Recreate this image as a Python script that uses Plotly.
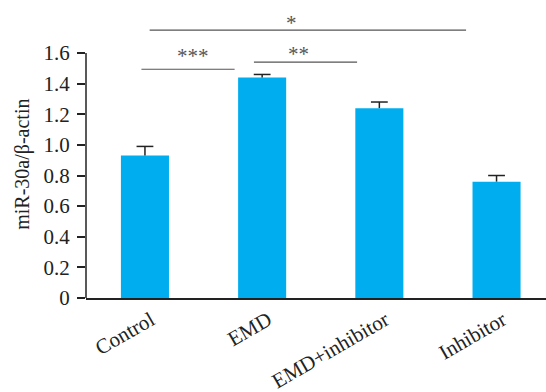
import plotly.graph_objects as go

categories = ["Control", "EMD", "EMD+inhibitor", "Inhibitor"]
values = [0.93, 1.44, 1.24, 0.76]
errors = [0.06, 0.02, 0.04, 0.04]
y_ticks = [0, 0.2, 0.4, 0.6, 0.8, 1.0, 1.2, 1.4, 1.6]
y_tick_labels = ["0", "0.2", "0.4", "0.6", "0.8", "1.0", "1.2", "1.4", "1.6"]
y_title = "miR-30a/β-actin"

# significance brackets
sig_x0 = [0.04, -0.03, 0.93]
sig_x1 = [2.74, 0.765, 1.81]
sig_y = [1.749, 1.494, 1.541]
sig_label = ["*", "***", "**"]
sig_label_x = [1.25, 0.41, 1.31]
sig_label_y = [1.814, 1.598, 1.611]

FONT = "Liberation Serif, Times New Roman, serif"
BAR = "#00AEEF"

tops = [v + e for v, e in zip(values, errors)]

fig = go.Figure()
fig.add_trace(go.Bar(
    x=categories, y=values,
    marker=dict(color=BAR, line=dict(width=0)),
    width=0.41, hoverinfo="skip",
))
# upper-only error bars: cap marker at top + stem down to the bar
fig.add_trace(go.Scatter(
    x=categories, y=tops, mode="markers",
    marker=dict(symbol="line-ew-open", size=12, color="#222",
                line=dict(color="#222", width=1.5)),
    error_y=dict(type="data", symmetric=False, array=[0] * len(errors),
                 arrayminus=errors, color="#222", thickness=1.5, width=0),
    hoverinfo="skip",
))

shapes = [
    dict(type="line", xref="paper", yref="y", x0=0, x1=0,
         y0=y_ticks[0], y1=y_ticks[-1], line=dict(color="#222", width=1.5)),
]
annotations = []
for x0, x1, y, lab, lx, ly in zip(sig_x0, sig_x1, sig_y, sig_label, sig_label_x, sig_label_y):
    shapes.append(dict(type="line", xref="x", yref="y", x0=x0, x1=x1, y0=y, y1=y,
                       line=dict(color="#555", width=1.2)))
    annotations.append(dict(x=lx, y=ly, xref="x", yref="y", text=lab, showarrow=False,
                            yanchor="middle", yshift=-3,
                            font=dict(family=FONT, size=21, color="#555")))

annotations.append(dict(x=0, xref="paper", xanchor="center", xshift=-63,
                        y=0.87, yref="y", yanchor="middle", textangle=-90,
                        text=y_title, showarrow=False,
                        font=dict(family=FONT, size=20, color="#222")))

fig.update_layout(
    width=546, height=392,
    margin=dict(l=86, r=0, t=10, b=94),
    paper_bgcolor="white", plot_bgcolor="white",
    showlegend=False,
    shapes=shapes, annotations=annotations,
    xaxis=dict(range=[-0.503, 3.422], showline=True, linecolor="#222", linewidth=1.5,
               ticks="", tickangle=-30, showgrid=False, zeroline=False, automargin=False,
               ticklabelshift=6,
               tickfont=dict(family=FONT, size=21, color="#222")),
    yaxis=dict(range=[0, 1.881], tickvals=y_ticks, ticktext=y_tick_labels,
               ticks="outside", ticklen=8, tickwidth=1.5, tickcolor="#222",
               showline=False, showgrid=False, zeroline=False, automargin=False,
               ticklabelstandoff=3,
               tickfont=dict(family=FONT, size=21, color="#222")),
)

fig.write_html(
    "out.html",
    config={"displayModeBar": False},
    post_script="document.body.style.margin='0';document.body.style.overflow='hidden';",
)
